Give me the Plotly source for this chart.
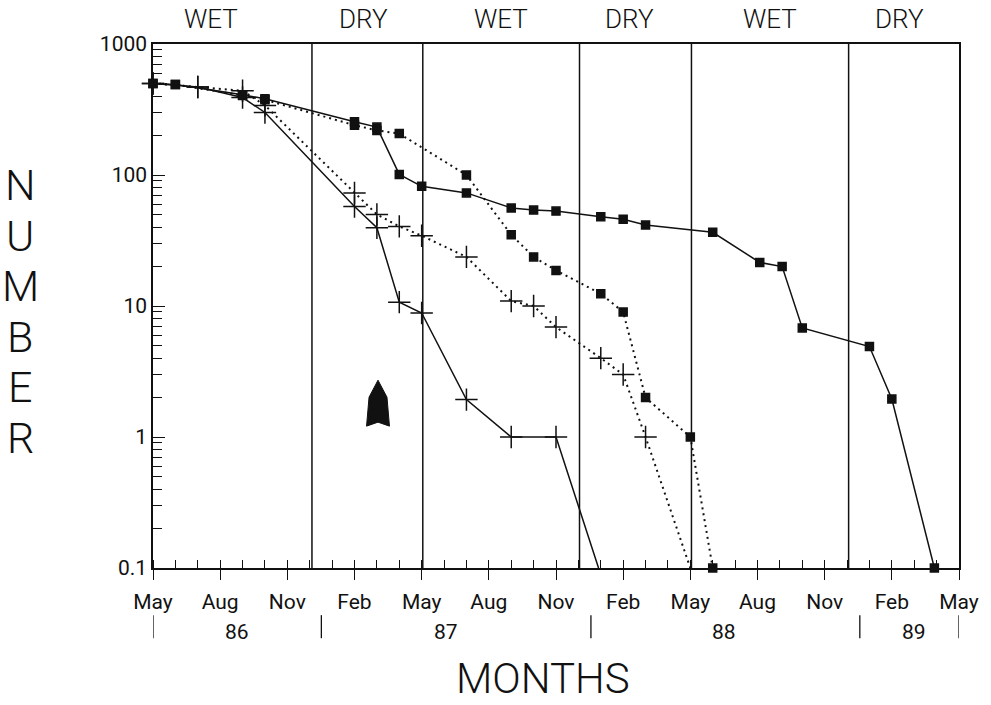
import plotly.graph_objects as go

# ---------------- data (months since May 1986) ----------------
s1_months = [0, 1, 4, 5, 9, 10, 11, 12, 14, 16, 17, 18, 20, 21, 22, 25, 27.1, 28.1, 29, 32, 33, 34.9]
s1_values = [500, 490, 410, 382, 255, 232, 101, 82, 73, 56, 54, 53, 48, 46, 41.5, 36.5, 21.5, 20, 6.8, 4.9, 1.95, 0.1]

s2_months = [0, 1, 4, 5, 9, 10, 11, 14, 16, 17, 18, 20, 21, 22, 24, 25]
s2_values = [500, 490, 405, 375, 240, 219, 207, 100, 35, 23.7, 18.7, 12.4, 9, 2, 1, 0.1]

s3_months = [0, 2, 4, 5, 9, 10, 11, 12, 14, 16, 17, 18, 20, 21, 22, 24]
s3_values = [500, 470, 440, 340, 73, 50, 40.5, 34.4, 23.7, 10.9, 10, 6.9, 4, 3, 1, 0.1]

s4_months = [0, 2, 4, 5, 9, 10, 11, 12, 14, 16, 18, 19.9]
s4_values = [500, 470, 390, 300, 57.5, 39.6, 10.7, 8.85, 1.93, 1, 1, 0.1]

tick_months = [0, 3, 6, 9, 12, 15, 18, 21, 24, 27, 30, 33, 36]
tick_labels = ["May", "Aug", "Nov", "Feb", "May", "Aug", "Nov", "Feb", "May", "Aug", "Nov", "Feb", "May"]

y_tick_vals = [0.1, 1, 10, 100, 1000]
y_tick_text = ["0.1", "1", "10", "100", "1000"]

season_bounds = [7.1, 12.05, 19.05, 24.05, 31.07]
season_labels = ["WET", "DRY", "WET", "DRY", "WET", "DRY"]
season_label_x = [2.6, 9.4, 15.55, 21.3, 27.57, 33.35]

year_labels = ["86", "87", "88", "89"]
year_label_x = [3.77, 13.1, 25.5, 34.0]
year_seps = [0, 7.52, 19.56, 31.57, 36]

arrow_month = 10.05

INK = "#111111"
FONT = "Roboto"

fig = go.Figure()

def add_series(x, y, symbol, dash, last_marker=True, size=8):
    sizes = [size] * len(x)
    if not last_marker:
        sizes[-1] = 0
    fig.add_trace(go.Scatter(
        x=x, y=y, mode="lines+markers", cliponaxis=False,
        line=dict(color=INK, width=1.5 if dash == "solid" else 2, dash=dash),
        marker=dict(symbol=symbol, size=sizes, color=INK, opacity=1,
                    line=dict(color=INK, width=1.5)),
        showlegend=False, hoverinfo="skip"))

add_series(s1_months, s1_values, "square", "solid", True, 8)
add_series(s2_months, s2_values, "square", "2px,4px", True, 8)
add_series(s3_months, s3_values, "cross-thin", "2px,4px", False, 16)
add_series(s4_months, s4_values, "cross-thin", "solid", False, 16)

# minor log ticks
minor_vals = [k * 10 ** e for e in range(-1, 3) for k in range(2, 10)]

fig.update_xaxes(
    range=[0, 36], showgrid=False, zeroline=False,
    showline=True, mirror=True, linecolor=INK, linewidth=1.5,
    tickmode="array", tickvals=tick_months, ticktext=tick_labels,
    ticks="outside", ticklen=10, tickwidth=1.2, tickcolor=INK,
    ticklabelstandoff=4,
    tickfont=dict(family=FONT, size=21, color=INK),
    minor=dict(tickmode="array", tickvals=list(range(37)), ticks="inside",
               ticklen=8, tickwidth=1.2, tickcolor=INK, showgrid=False),
)
fig.update_yaxes(
    type="log", range=[-1, 3], showgrid=False, zeroline=False,
    showline=True, mirror=True, linecolor=INK, linewidth=1.5,
    tickmode="array", tickvals=y_tick_vals, ticktext=y_tick_text,
    ticks="inside", ticklen=12, tickwidth=1.2, tickcolor=INK,
    tickfont=dict(family=FONT, size=21, color=INK),
    minor=dict(tickmode="array", tickvals=minor_vals, ticks="inside",
               ticklen=9, tickwidth=1.2, tickcolor=INK, showgrid=False),
)

# season boundaries
for b in season_bounds:
    fig.add_shape(type="line", xref="x", yref="paper", x0=b, x1=b, y0=0, y1=1,
                  line=dict(color=INK, width=1.5))

# season labels
for lab, xm in zip(season_labels, season_label_x):
    fig.add_annotation(x=xm, y=1.0, xref="x", yref="paper", text=lab,
                       showarrow=False, xanchor="center", yanchor="bottom", yshift=8,
                       font=dict(family=FONT, size=26, color=INK, weight=300))

# year separators and labels
for s in year_seps:
    fig.add_shape(type="line", xref="x", yref="paper", x0=s, x1=s,
                  y0=-0.090, y1=-0.134, line=dict(color=INK, width=1.3))
for lab, xm in zip(year_labels, year_label_x):
    fig.add_annotation(x=xm, y=-0.122, xref="x", yref="paper", text=lab,
                       showarrow=False, xanchor="center", yanchor="middle",
                       font=dict(family=FONT, size=21, color=INK))

# axis titles
fig.add_annotation(x=0.484, y=-0.2115, xref="paper", yref="paper", text="MONTHS",
                   showarrow=False, xanchor="center", yanchor="middle",
                   font=dict(family=FONT, size=42, color=INK, weight=300))
for i, ch in enumerate("NUMBER"):
    ypx = 185 + i * 50.5
    fig.add_annotation(x=-0.1647, y=(568 - ypx) / 524.5, xref="paper", yref="paper",
                       text=ch, showarrow=False, xanchor="center", yanchor="middle",
                       font=dict(family=FONT, size=43, color=INK, weight=300))

# filled arrow (decoration) in paper coordinates anchored at arrow_month
ax0 = arrow_month / 36.0
tip_y = (568 - 380) / 524.5
pts = [(0, 0), (9, 17), (11.5, 46), (0, 42), (-11.5, 46), (-9, 17)]
path = ""
for i, (dx, dy) in enumerate(pts):
    xx = ax0 + dx / 809.4
    yy = tip_y - dy / 524.5
    path += ("M" if i == 0 else "L") + f"{xx:.5f},{yy:.5f} "
path += "Z"
fig.add_shape(type="path", xref="paper", yref="paper", path=path,
              fillcolor=INK, line=dict(color=INK, width=1))

fig.update_layout(
    width=991, height=705,
    margin=dict(l=153, r=28, t=44, b=137),
    paper_bgcolor="white", plot_bgcolor="white",
    font=dict(family=FONT, color=INK),
)

# remove the default page-body margin so the figure fills the window exactly
fig.write_html("out.html", config={"displayModeBar": False},
               post_script="document.body.style.margin='0';")
